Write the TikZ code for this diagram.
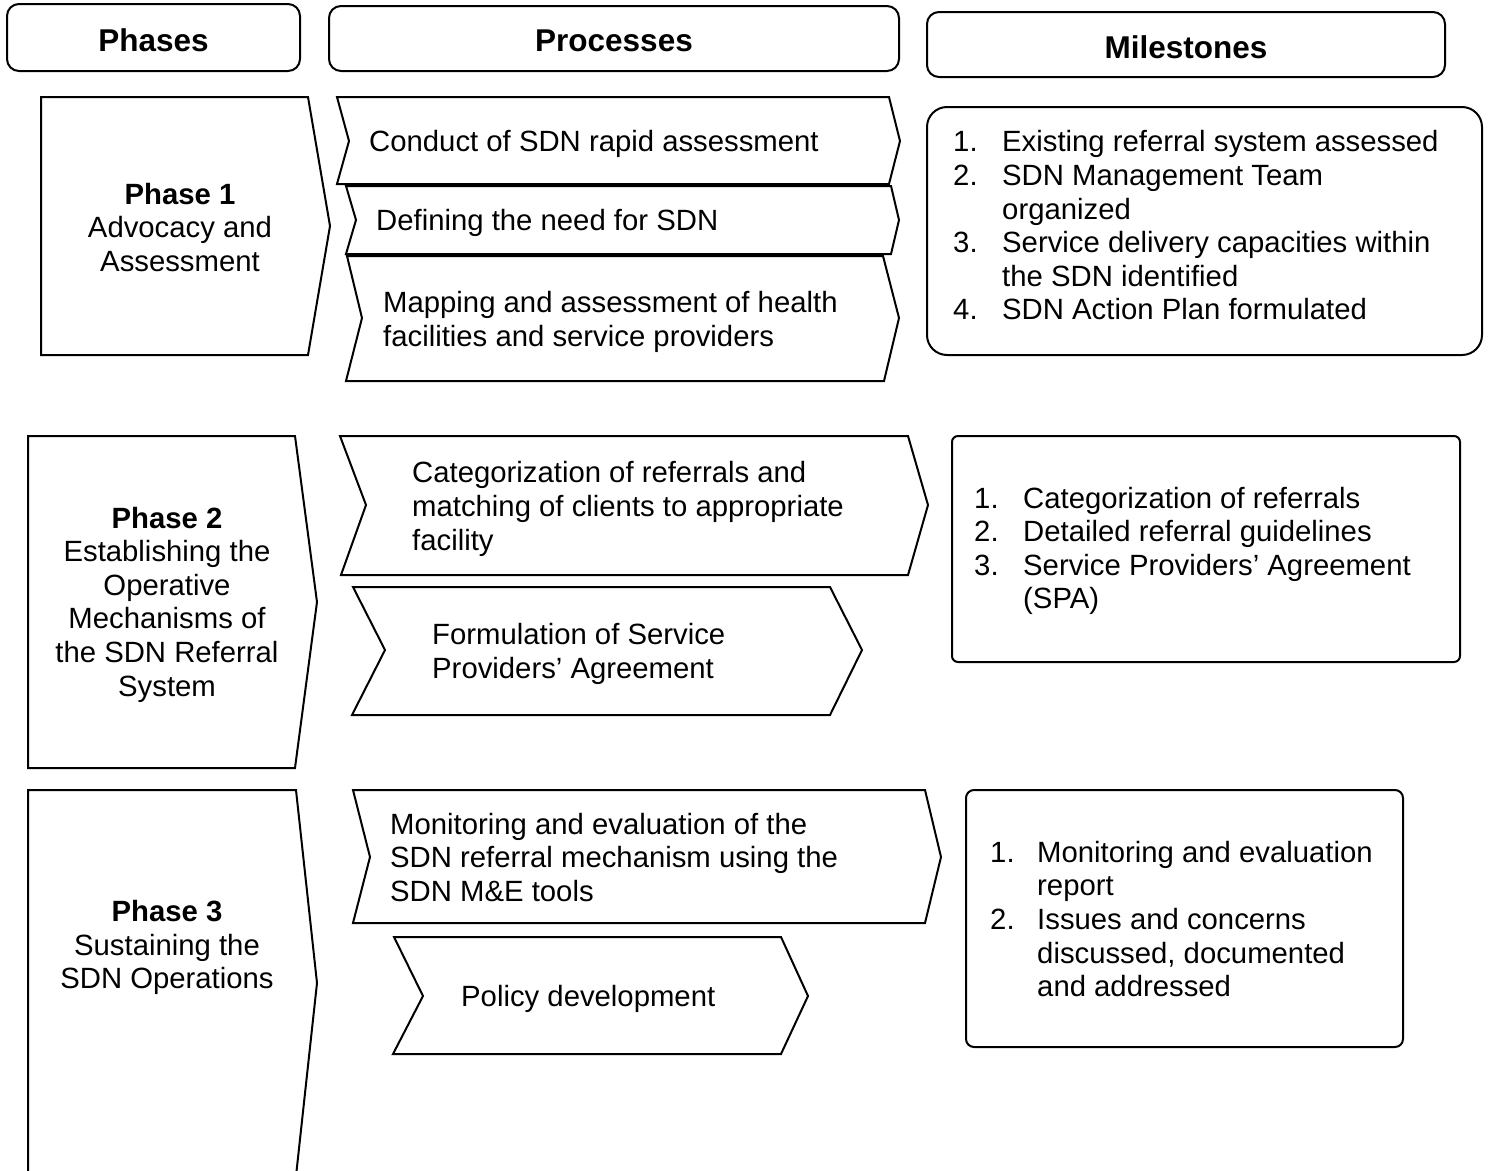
\documentclass[tikz,border=0pt]{standalone}
\usepackage{fontspec}
\setmainfont{Liberation Sans}
\newcommand\lnum[2][49pt]{\makebox[#1][l]{#2}}
\newcommand\lind[1][49pt]{\hspace*{#1}}
\begin{document}
\begin{tikzpicture}[x=1pt,y=-1pt,
  outl/.style={draw=black,line width=2pt,line join=miter},
  hdr/.style={draw=black,line width=2pt,rounded corners=12pt,font=\fontsize{31.5}{36}\selectfont\bfseries,inner sep=0pt},
  txt/.style={font=\fontsize{29.3}{33.6}\selectfont,inner sep=0pt,align=left,anchor=west},
  ptxt/.style={font=\fontsize{29.3}{33.6}\selectfont,inner sep=0pt,align=center},
]
\useasboundingbox (0,0) rectangle (1488,1170);
\fill[white] (0,0) rectangle (1488,1170);
\clip (0,0) rectangle (1488,1170);

% headers
\draw[outl,rounded corners=12pt] (7,4) rectangle (300,71);
\node[hdr,draw=none] (hphases) at (153.5,40) {Phases};
\draw[outl,rounded corners=12pt] (329,6) rectangle (899,71);
\node[hdr,draw=none] (hproc) at (614,41) {Processes};
\draw[outl,rounded corners=12pt] (927,12) rectangle (1445,77);
\node[hdr,draw=none] (hmile) at (1186,47) {Milestones};

% phases
\draw[outl] (41,97) -- (308,97) -- (330,226) -- (308,355) -- (41,355) -- cycle;
\node[ptxt] (ph1) at (180,227.5) {\textbf{Phase 1}\\Advocacy and\\Assessment};
\draw[outl] (28,436) -- (295,436) -- (317,602) -- (295,768) -- (28,768) -- cycle;
\node[ptxt] (ph2) at (167,604.5) {\textbf{Phase 2}\\Establishing the\\Operative\\Mechanisms of\\the SDN Referral\\System};
\draw[outl] (28,790) -- (296,790) -- (317,983) -- (296,1176) -- (28,1176) -- cycle;
\node[ptxt] (ph3) at (167,947.5) {\textbf{Phase 3}\\Sustaining the\\SDN Operations};

% processes phase 1
\draw[outl] (337,97) -- (889,97) -- (900,141) -- (889,184) -- (337,184) -- (349,141) -- cycle;
\node[txt] (c1) at (369,144) {Conduct of SDN rapid assessment};
\draw[outl] (346,186) -- (891,186) -- (899,220) -- (891,254) -- (346,254) -- (356,220) -- cycle;
\node[txt] (c2) at (376,223) {Defining the need for SDN};
\draw[outl] (347,256) -- (883,256) -- (899,318) -- (884,381) -- (346,381) -- (362,318) -- cycle;
\node[txt] (c3) at (383,322) {Mapping and assessment of health\\facilities and service providers};

% processes phase 2
\draw[outl] (340,436) -- (908,436) -- (928,505) -- (908,575) -- (341,575) -- (366,505) -- cycle;
\node[txt] (ca) at (412,509) {Categorization of referrals and\\matching of clients to appropriate\\facility};
\draw[outl] (353,587) -- (830,587) -- (862,650) -- (830,715) -- (352,715) -- (385,650) -- cycle;
\node[txt] (cb) at (432,654) {Formulation of Service\\Providers’ Agreement};

% processes phase 3
\draw[outl] (353,790) -- (925,790) -- (941,857) -- (925,923) -- (353,923) -- (370,857) -- cycle;
\node[txt] (cm) at (390,857.5) {Monitoring and evaluation of the\\SDN referral mechanism using the\\SDN M\&E tools};
\draw[outl] (394,937) -- (781,937) -- (808,996) -- (781,1054) -- (393,1054) -- (423,996) -- cycle;
\node[txt] (cp) at (461,999) {Policy development};

% milestones
\draw[outl,rounded corners=20pt] (927,107) rectangle (1482,355);
\node[txt] (m1) at (953,225.5) {\lnum{1.}Existing referral system assessed\\
\lnum{2.}SDN Management Team\\
\lind organized\\
\lnum{3.}Service delivery capacities within\\
\lind the SDN identified\\
\lnum{4.}SDN Action Plan formulated};

\draw[outl,rounded corners=6pt] (952,436) rectangle (1460,662);
\node[txt] (m2) at (974,551) {\lnum{1.}Categorization of referrals\\
\lnum{2.}Detailed referral guidelines\\
\lnum{3.}Service Providers’ Agreement\\
\lind (SPA)};

\draw[outl,rounded corners=8pt] (966,790) rectangle (1403,1047);
\node[txt] (m3) at (990,919) {\lnum[47pt]{1.}Monitoring and evaluation\\
\lind[47pt]report\\
\lnum[47pt]{2.}Issues and concerns\\
\lind[47pt]discussed, documented\\
\lind[47pt]and addressed};
\end{tikzpicture}
\end{document}
